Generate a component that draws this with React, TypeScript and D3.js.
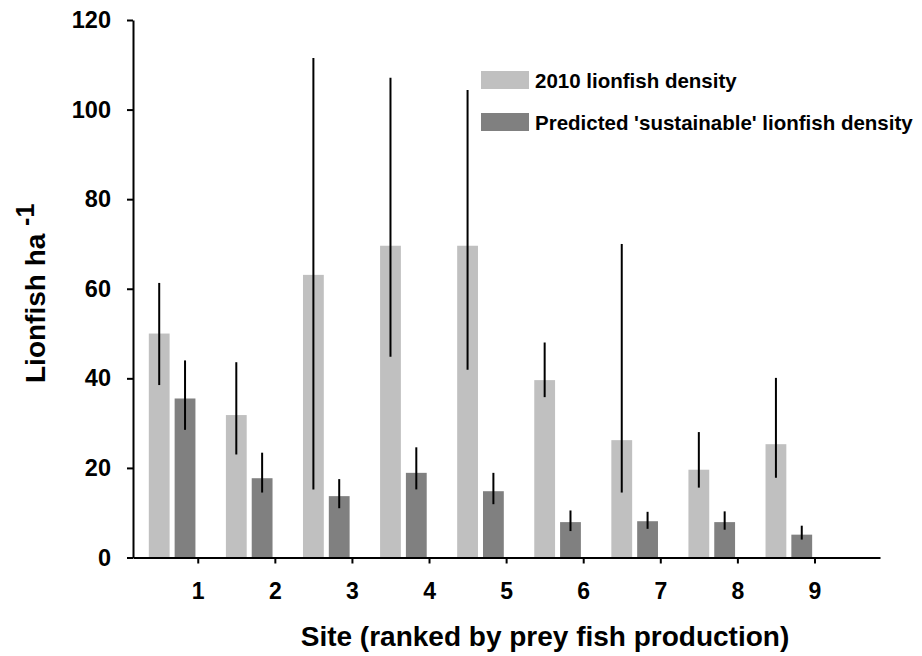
import { useEffect, useRef } from 'react'
import * as d3 from 'd3'

const sites = [1, 2, 3, 4, 5, 6, 7, 8, 9]
// 2010 lionfish density (mean, upper and lower end of error bar)
const density2010 = [50, 31.8, 63.1, 69.6, 69.6, 39.6, 26.2, 19.6, 25.3]
const density2010Hi = [61.3, 43.6, 111.5, 107.1, 104.4, 48.0, 70.0, 28.0, 40.1]
const density2010Lo = [38.5, 23.0, 15.2, 44.8, 41.9, 35.8, 14.5, 15.6, 17.8]
// predicted 'sustainable' density
const predicted = [35.5, 17.7, 13.7, 18.9, 14.8, 7.9, 8.1, 7.9, 5.1]
const predictedHi = [44.0, 23.4, 17.5, 24.6, 18.9, 10.5, 10.2, 10.3, 7.1]
const predictedLo = [28.5, 14.5, 11.0, 15.2, 11.9, 5.9, 6.4, 6.2, 4.0]
const yTicks = [0, 20, 40, 60, 80, 100, 120]

const FONT = 'Liberation Sans, Arial, Helvetica, sans-serif'
const LIGHT = '#c0c0c0'
const DARK = '#808080'

export default function App() {
  const svgRef = useRef<SVGSVGElement>(null)

  useEffect(() => {
    const W = 922
    const H = 656
    const svg = d3.select(svgRef.current)
    svg.selectAll('*').remove()
    svg.attr('width', W).attr('height', H)

    const x = d3.scaleLinear().domain([0.16, 9.85]).range([133, 880])
    const y = d3.scaleLinear().domain([0, 120]).range([557.5, 20])
    const unit = x(1) - x(0)
    const barW = 0.27 * unit

    const series = [
      { vals: density2010, hi: density2010Hi, lo: density2010Lo, off: -0.5, fill: LIGHT },
      { vals: predicted, hi: predictedHi, lo: predictedLo, off: -0.165, fill: DARK }
    ]

    series.forEach((s) => {
      const g = svg.append('g')
      g.selectAll('rect')
        .data(sites)
        .join('rect')
        .attr('x', (d) => x(d + s.off) - barW / 2)
        .attr('width', barW)
        .attr('y', (_, i) => y(s.vals[i]))
        .attr('height', (_, i) => y(0) - y(s.vals[i]))
        .attr('fill', s.fill)
      g.selectAll('line')
        .data(sites)
        .join('line')
        .attr('x1', (d) => x(d + s.off))
        .attr('x2', (d) => x(d + s.off))
        .attr('y1', (_, i) => y(s.hi[i]))
        .attr('y2', (_, i) => y(s.lo[i]))
        .attr('stroke', '#000')
        .attr('stroke-width', 2)
    })

    // y axis
    const yAxis = svg.append('g')
      .attr('transform', `translate(${x.range()[0]},0)`)
      .call(d3.axisLeft(y).tickValues(yTicks).tickSize(6).tickPadding(16).tickSizeOuter(0))
    yAxis.select('.domain').attr('stroke-width', 2)
    yAxis.selectAll('.tick line').attr('stroke-width', 2)
    yAxis.selectAll('.tick text')
      .attr('font-family', FONT)
      .attr('font-size', 23.5)
      .attr('font-weight', 'bold')
      .attr('fill', '#000')

    // x axis
    const xAxis = svg.append('g')
      .attr('transform', `translate(0,${y(0)})`)
      .call(d3.axisBottom(x).tickValues(sites).tickFormat(d3.format('d')).tickSize(6).tickPadding(19).tickSizeOuter(0))
    xAxis.select('.domain').attr('stroke-width', 2)
    xAxis.selectAll('.tick line').attr('stroke-width', 2)
    xAxis.selectAll('.tick text')
      .attr('font-family', FONT)
      .attr('font-size', 23)
      .attr('font-weight', 'bold')
      .attr('fill', '#000')

    // axis titles
    svg.append('text')
      .attr('x', 545)
      .attr('y', 646)
      .attr('text-anchor', 'middle')
      .attr('font-family', FONT)
      .attr('font-size', 28)
      .attr('font-weight', 'bold')
      .text('Site (ranked by prey fish production)')

    const yt = svg.append('text')
      .attr('transform', 'translate(45,383) rotate(-90)')
      .attr('font-family', FONT)
      .attr('font-size', 28)
      .attr('font-weight', 'bold')
    yt.append('tspan').text('Lionfish ha ')
    yt.append('tspan').attr('dy', -11).attr('font-size', 25).text('-1')

    // legend
    const legend = [
      { label: '2010 lionfish density', fill: LIGHT },
      { label: "Predicted 'sustainable' lionfish density", fill: DARK }
    ]
    const lg = svg.append('g').attr('transform', 'translate(481,71)')
    lg.selectAll('rect')
      .data(legend)
      .join('rect')
      .attr('x', 0)
      .attr('y', (_, i) => i * 42)
      .attr('width', 48)
      .attr('height', 18)
      .attr('fill', (d) => d.fill)
    lg.selectAll('text')
      .data(legend)
      .join('text')
      .attr('x', 54)
      .attr('y', (_, i) => i * 42 + 17)
      .attr('font-family', FONT)
      .attr('font-size', 20.5)
      .attr('font-weight', 'bold')
      .text((d) => d.label)
  }, [])

  return (
    <div style={{ position: 'absolute', left: 0, top: 0, background: '#fff' }}>
      <svg ref={svgRef} style={{ display: 'block' }} />
    </div>
  )
}
